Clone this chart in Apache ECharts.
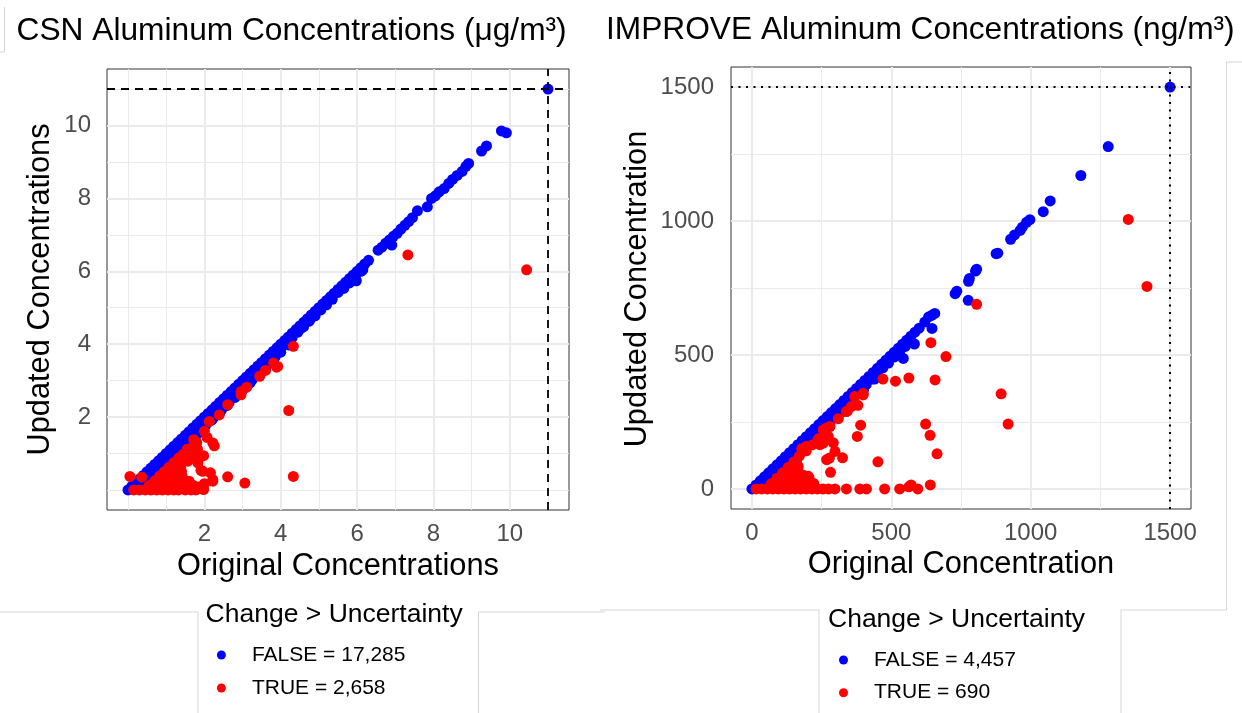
<!DOCTYPE html>
<html>
<head>
<meta charset="utf-8">
<title>Aluminum Concentrations</title>
<script src="https://cdn.jsdelivr.net/npm/echarts@6/dist/echarts.min.js"></script>
<style>
  html, body { margin: 0; padding: 0; background: #fff; }
  #main { width: 1242px; height: 713px; }
</style>
</head>
<body>
<div id="main"></div>
<script>
// ---- CSN panel (ug/m3) ----
var csnTicks = [2, 4, 6, 8, 10];
var csnMinorGrid = [0, 1, 3, 5, 7, 9, 11];
var csnRefLine = 11;
var csnLegend = ["FALSE = 17,285", "TRUE = 2,658"];
// [original, updated], change <= uncertainty
var csnFalse = [
  [0.00,0.00],[0.10,0.10],[0.20,0.20],[0.30,0.30],[0.40,0.40],[0.50,0.50],[0.60,0.60],[0.70,0.70],[0.80,0.80],[0.90,0.90],
  [1.00,1.00],[1.10,1.10],[1.20,1.20],[1.30,1.30],[1.40,1.40],[1.50,1.50],[1.60,1.60],[1.70,1.70],[1.80,1.80],[1.90,1.90],
  [2.00,2.00],[2.10,2.10],[2.20,2.20],[2.30,2.30],[2.40,2.40],[2.50,2.50],[2.60,2.60],[2.70,2.70],[2.80,2.80],[2.90,2.90],
  [3.00,3.00],[3.10,3.10],[3.20,3.20],[3.30,3.30],[3.40,3.40],[3.50,3.50],[3.60,3.60],[3.70,3.70],[3.80,3.80],[3.90,3.90],
  [4.00,4.00],[4.10,4.10],[4.20,4.20],[4.30,4.30],[4.40,4.40],[4.50,4.50],[4.60,4.60],[4.70,4.70],[4.80,4.80],[4.90,4.90],
  [5.00,5.00],[5.10,5.10],[5.20,5.20],[5.30,5.30],[5.40,5.40],[5.50,5.50],[5.60,5.60],[5.70,5.70],[5.80,5.80],[5.90,5.90],
  [6.00,6.00],[6.10,6.10],[6.20,6.20],[6.30,6.30],
  [0.25,0.12],[0.40,0.26],[0.55,0.41],[0.70,0.56],[0.85,0.72],[1.00,0.87],[1.15,1.02],[1.30,1.17],[1.45,1.32],[1.60,1.47],
  [1.75,1.62],[1.90,1.77],[2.05,1.92],[2.20,2.07],[2.35,2.22],[2.50,2.37],[2.65,2.52],[2.80,2.67],[2.95,2.82],[3.10,2.97],
  [3.25,3.12],[3.40,3.28],[3.55,3.43],[3.70,3.59],[3.85,3.75],[4.00,3.90],[4.15,4.06],[4.54,4.44],[4.80,4.72],[5.05,4.94],
  [5.50,5.42],[5.98,5.74],[6.10,6.00],
  [0.45,0.20],[0.65,0.40],[0.85,0.60],[1.05,0.80],[1.25,1.00],[1.45,1.20],[1.65,1.40],[1.85,1.60],[2.05,1.80],[2.25,2.00],
  [2.45,2.20],[2.65,2.40],[2.85,2.60],[3.05,2.82],[3.25,3.02],[3.45,3.22],[3.65,3.44],[3.85,3.64],
  [0.60,0.30],[0.80,0.50],[1.00,0.70],[1.20,0.90],[1.40,1.10],[1.60,1.30],[1.80,1.52],[2.00,1.72],[2.20,1.92],[2.40,2.12],
  [2.60,2.32],[2.80,2.54],[3.00,2.74],[3.20,2.94],[3.40,3.14],[3.60,3.36],[3.80,3.56],[4.00,3.78],[4.20,3.98],
  [4.30,4.18],[4.45,4.33],[4.60,4.48],[4.75,4.63],[4.90,4.78],[5.20,5.08],[5.35,5.23],[5.65,5.53],[5.80,5.68],[5.95,5.84],
  [6.15,6.04],
  [6.55,6.58],[6.65,6.66],[6.75,6.77],[6.85,6.86],[6.95,6.96],[7.05,7.04],[7.15,7.16],[7.25,7.26],[7.35,7.36],[7.45,7.47],
  [7.58,7.66],[6.91,6.72],
  [7.84,7.77],[7.95,8.00],[8.05,8.07],[8.15,8.18],[8.28,8.27],[8.40,8.41],[8.50,8.52],[8.62,8.63],[8.75,8.74],[8.85,8.88],
  [8.92,8.96],[9.26,9.30],[9.39,9.44],[9.78,9.85],[9.91,9.80],[11.00,11.00]
];
// change > uncertainty
var csnTrue = [
  [0.15,0.00],[0.30,0.00],[0.45,0.00],[0.60,0.00],[0.75,0.00],[0.90,0.00],[1.05,0.00],[1.20,0.00],[1.32,0.00],[1.50,0.00],[1.65,0.00],[1.78,0.00],
  [0.55,0.12],[0.70,0.12],[0.85,0.12],[1.00,0.12],[1.15,0.12],[1.30,0.12],[1.45,0.12],[1.60,0.12],[1.72,0.12],
  [0.70,0.25],[0.85,0.25],[1.00,0.25],[1.15,0.25],[1.30,0.25],[1.45,0.25],[1.60,0.24],
  [0.83,0.38],[0.98,0.38],[1.13,0.38],[1.28,0.38],[1.42,0.37],
  [0.95,0.50],[1.10,0.50],[1.25,0.50],[1.40,0.51],
  [1.07,0.62],[1.22,0.62],[1.38,0.63],
  [1.20,0.75],[1.35,0.76],
  [1.33,0.88],[1.45,0.98],
  [1.62,1.02],[1.75,1.02],[1.82,1.12],[1.70,1.18],[1.80,1.30],[1.72,1.38],
  [0.05,0.37],[0.36,0.35],[1.55,1.12],[1.57,0.79],[1.74,0.92],[1.83,0.74],[1.91,0.92],[1.98,0.94],[1.91,0.54],
  [1.96,0.51],[2.16,0.47],[2.22,0.24],[2.00,0.17],[1.85,0.08],[1.98,0.01],[2.22,0.28],[2.61,0.36],[3.06,0.19],
  [4.33,0.37],[2.26,1.21],[2.22,1.29],[2.07,1.44],[2.00,1.61],[2.13,1.88],[2.39,2.06],[2.61,2.34],[2.96,2.61],
  [2.96,2.70],[3.11,2.82],[3.45,3.12],[3.60,3.28],[3.81,3.48],[3.89,3.37],[3.92,3.39],[4.33,3.94],[4.21,2.18],
  [7.33,6.45],[10.44,6.04]
];

// ---- IMPROVE panel (ng/m3) ----
var improveTicks = [0, 500, 1000, 1500];
var improveMinorGrid = [250, 750, 1250];
var improveRefLine = 1500;
var improveLegend = ["FALSE = 4,457", "TRUE = 690"];
var improveFalse = [
  [0,0],[15,15],[30,30],[45,45],[60,60],[75,75],[90,90],[105,105],[120,120],[135,135],
  [150,150],[165,165],[180,180],[195,195],[210,210],[225,225],[240,240],[255,255],[270,270],[285,285],
  [300,300],[315,315],[330,330],[345,345],[360,360],[375,375],[390,390],[405,405],[420,420],[435,435],
  [450,450],[465,465],[480,480],[495,495],[510,510],[525,525],[540,540],[555,555],[570,570],[585,585],
  [600,600],[620,623],[634,642],[645,648],[656,655],
  [30,12],[50,30],[70,50],[90,70],[110,88],[130,108],[150,128],[170,148],[190,168],[210,188],
  [230,208],[250,228],[270,250],[290,268],[310,290],[330,310],[350,330],[370,350],[390,370],[410,390],
  [430,410],[450,432],[470,452],[490,470],[510,492],[530,512],[550,532],[570,552],
  [80,50],[120,88],[160,126],[200,166],[240,205],[280,246],[320,286],[360,328],[400,368],[440,410],
  [100,72],[150,118],[200,170],[292,264],[646,599],[583,541],[543,487],[776,704],
  [729,729],[735,738],[777,775],[780,785],[802,813],[806,820],[876,878],[882,880],[928,932],[942,948],
  [962,965],[970,977],[985,995],[997,1005],[1045,1035],[1070,1075],[1180,1170],[1278,1278],[1500,1500]
];
var improveTrue = [
  [15,0],[35,0],[55,0],[75,0],[95,0],[115,0],[135,0],[155,0],[175,0],[195,0],[215,0],[235,0],[255,0],[275,0],
  [70,20],[90,20],[110,20],[130,20],[150,20],[170,20],[190,20],[208,20],[222,20],
  [90,40],[110,40],[130,40],[150,40],[170,40],[190,40],[205,42],
  [110,60],[130,60],[150,60],[168,62],
  [130,80],[150,80],[166,84],
  [150,100],[160,104],
  [298,0],[339,0],[387,0],[411,0],[476,0],[530,0],[563,8],[571,15],[595,0],[640,15],
  [161,53],[173,53],[187,50],[202,47],[282,62],[268,109],[278,115],[325,116],[298,140],[452,101],
  [196,159],[244,165],[256,171],[292,172],[274,196],[268,227],[179,150],[238,184],
  [170,122],[195,142],[218,165],[240,188],[256,221],[280,233],[310,262],[339,289],[357,308],[369,345],[399,357],
  [343,291],[380,312],[399,351],[378,196],[390,238],[470,410],[515,402],[563,414],[657,407],[642,546],
  [696,494],[623,242],[639,200],[664,131],[894,355],[919,242],[806,689],[1350,1006],[1417,756]
];

var fontFamily = "Liberation Sans, Arial, sans-serif";

var myChart = echarts.init(document.getElementById("main"), null, { renderer: "canvas" });

function gridLines(minor, major, axis) {
  var list = [];
  minor.forEach(function (v) {
    var d = {}; d[axis] = v; d.lineStyle = { width: 1 }; list.push(d);
  });
  major.forEach(function (v) {
    var d = {}; d[axis] = v; d.lineStyle = { width: 2 }; list.push(d);
  });
  return list;
}

function makeAxis(idx, min, max, ticks, labelMargin) {
  return {
    type: "value",
    gridIndex: idx,
    min: min,
    max: max,
    axisLine: { show: false },
    splitLine: { show: false },
    axisTick: { show: true, length: 8, customValues: ticks, lineStyle: { color: "#333333", width: 1.5 } },
    axisLabel: {
      customValues: ticks,
      margin: labelMargin,
      fontSize: 24,
      color: "#4D4D4D",
      fontFamily: fontFamily,
      formatter: function (v) { return String(v); }
    }
  };
}

function bgSeries(xi, minor, major) {
  // grey panel grid drawn under the points
  return {
    type: "scatter",
    xAxisIndex: xi,
    yAxisIndex: xi,
    data: [],
    silent: true,
    markLine: {
      z: 1,
      silent: true,
      animation: false,
      symbol: ["none", "none"],
      label: { show: false },
      lineStyle: { color: "#EBEBEB", type: "solid" },
      emphasis: { disabled: true },
      data: gridLines(minor, major, "xAxis").concat(gridLines(minor, major, "yAxis"))
    }
  };
}

function refSeries(xi, value, dash, width) {
  return {
    type: "scatter",
    xAxisIndex: xi,
    yAxisIndex: xi,
    data: [],
    silent: true,
    markLine: {
      z: 6,
      silent: true,
      animation: false,
      symbol: ["none", "none"],
      label: { show: false },
      lineStyle: { color: "#000000", type: dash, width: width },
      emphasis: { disabled: true },
      data: [{ xAxis: value }, { yAxis: value }]
    }
  };
}

function pointSeries(name, xi, data, color) {
  return {
    name: name,
    type: "scatter",
    xAxisIndex: xi,
    yAxisIndex: xi,
    data: data,
    symbol: "circle",
    symbolSize: 11,
    itemStyle: { color: color, opacity: 1 },
    emphasis: { disabled: true },
    animation: false
  };
}

function legendBox(names, left, top, gap) {
  return {
    data: names,
    orient: "vertical",
    left: left,
    top: top,
    padding: 0,
    itemGap: gap,
    itemWidth: 51,
    itemHeight: 9,
    icon: "circle",
    selectedMode: false,
    textStyle: { fontSize: 21, lineHeight: 22, color: "#000000", fontFamily: fontFamily }
  };
}

function label(text, x, y, size, rot) {
  return {
    type: "text",
    x: x,
    y: y,
    rotation: rot || 0,
    style: {
      text: text,
      fontSize: size,
      fontFamily: fontFamily,
      fill: "#000000",
      textAlign: "center",
      textVerticalAlign: "middle"
    }
  };
}

function faint(x1, y1, x2, y2) {
  return {
    type: "line",
    silent: true,
    shape: { x1: x1, y1: y1, x2: x2, y2: y2 },
    style: { stroke: "#D6D6D6", lineWidth: 1 }
  };
}

let option = {
  backgroundColor: "#ffffff",
  animation: false,
  grid: [
    { left: 107, top: 69, width: 462, height: 441, show: true, borderColor: "#333333", borderWidth: 1, backgroundColor: "#ffffff" },
    { left: 731, top: 67, width: 460, height: 442, show: true, borderColor: "#333333", borderWidth: 1, backgroundColor: "#ffffff" }
  ],
  xAxis: [
    makeAxis(0, -0.55, 11.55, csnTicks, 12),
    makeAxis(1, -75, 1575, improveTicks, 12)
  ],
  yAxis: [
    makeAxis(0, -0.55, 11.55, csnTicks, 16),
    makeAxis(1, -75, 1575, improveTicks, 17)
  ],
  legend: [
    legendBox(csnLegend, 216.9, 644, 11),
    legendBox(improveLegend, 839, 649, 10.7)
  ],
  series: [
    bgSeries(0, csnMinorGrid, csnTicks),
    bgSeries(1, improveMinorGrid, improveTicks),
    pointSeries(csnLegend[0], 0, csnFalse, "#0000FF"),
    pointSeries(csnLegend[1], 0, csnTrue, "#FF0000"),
    pointSeries(improveLegend[0], 1, improveFalse, "#0000FF"),
    pointSeries(improveLegend[1], 1, improveTrue, "#FF0000"),
    refSeries(0, csnRefLine, [8, 6], 1.8),
    refSeries(1, improveRefLine, [2, 5.5], 2)
  ],
  graphic: [
    {
      type: "text", x: 16.6, y: 31.7,
      style: { text: "CSN Aluminum Concentrations (μg/m³)", fontSize: 31.7, fontFamily: fontFamily, fill: "#000", textAlign: "left", textVerticalAlign: "middle" }
    },
    {
      type: "text", x: 606, y: 30,
      style: { text: "IMPROVE Aluminum Concentrations (ng/m³)", fontSize: 31.7, fontFamily: fontFamily, fill: "#000", textAlign: "left", textVerticalAlign: "middle" }
    },
    label("Updated Concentrations", 40.5, 289.5, 30.8, Math.PI / 2),
    label("Original Concentrations", 338, 567, 30.8),
    label("Updated Concentration", 638, 289, 30.8, Math.PI / 2),
    label("Original Concentration", 961, 565, 30.8),
    {
      type: "text", x: 205.6, y: 615,
      style: { text: "Change > Uncertainty", fontSize: 26.5, fontFamily: fontFamily, fill: "#000", textAlign: "left", textVerticalAlign: "middle" }
    },
    {
      type: "text", x: 828, y: 619.3,
      style: { text: "Change > Uncertainty", fontSize: 26.5, fontFamily: fontFamily, fill: "#000", textAlign: "left", textVerticalAlign: "middle" }
    },
    // edges of the pasted images
    faint(4.5, 7, 4.5, 52),
    faint(0, 52, 4.5, 52),
    faint(0, 612, 198, 612),
    faint(478.5, 612, 605, 612),
    faint(198, 612, 198, 713),
    faint(478.5, 612, 478.5, 713),
    faint(1226.5, 62, 1242, 62),
    faint(1226.5, 62, 1226.5, 610),
    faint(600, 610, 819, 610),
    faint(1121, 610, 1226.5, 610),
    faint(819, 610, 819, 713),
    faint(1121, 610, 1121, 713)
  ]
};

myChart.setOption(option);

window.addEventListener("resize", () => {
  if (myChart) myChart.resize();
});
</script>
</body>
</html>
